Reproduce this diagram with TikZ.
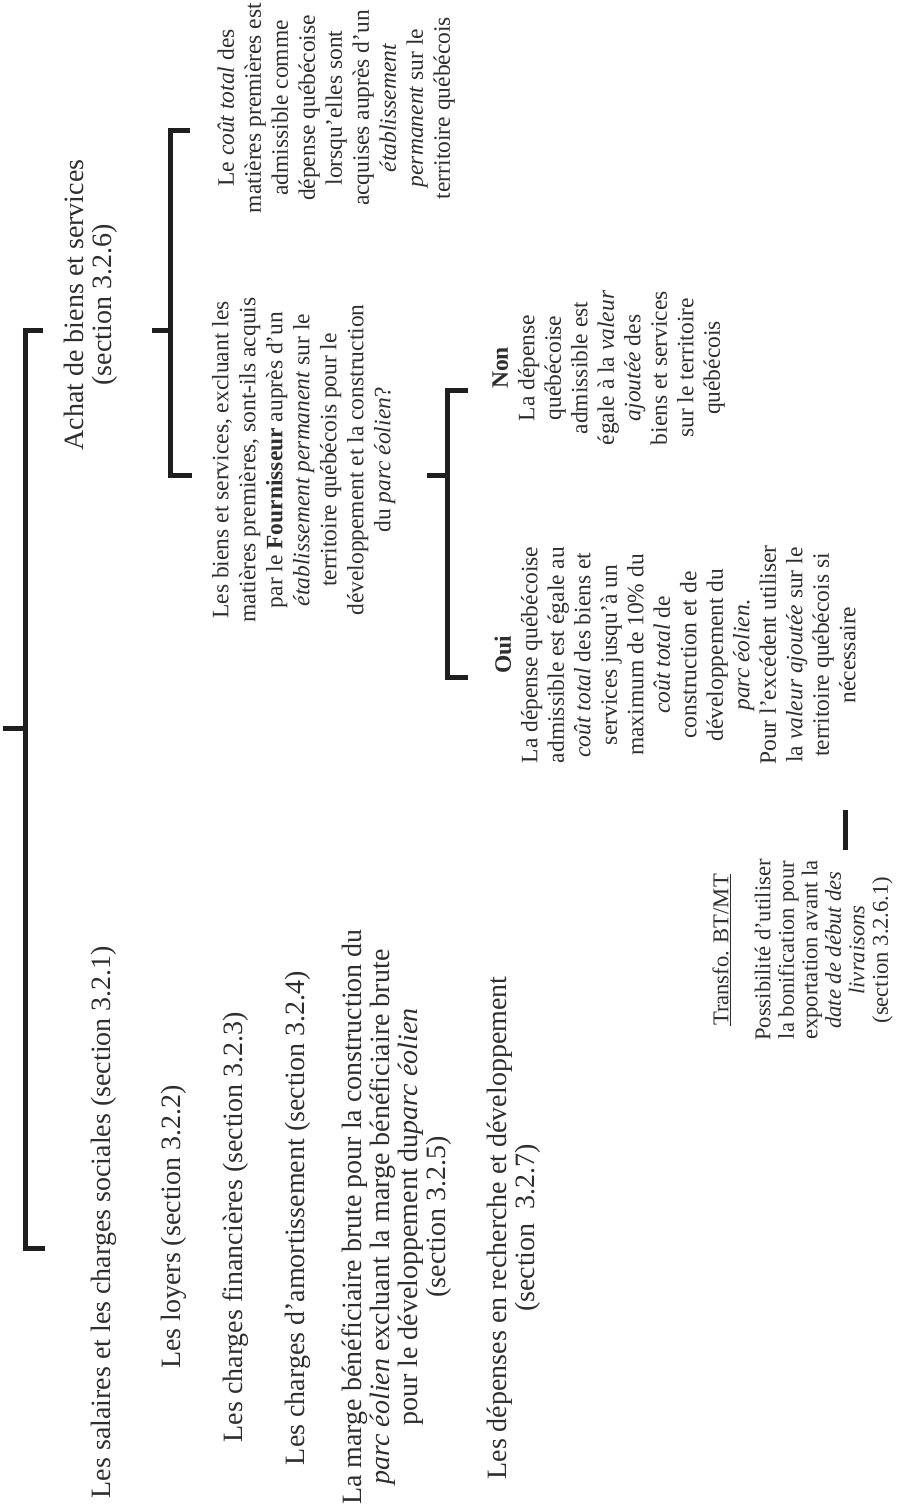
\documentclass[tikz,border=0pt]{standalone}
\usepackage{fontspec}
\setmainfont{Liberation Serif}
\begin{document}
\begin{tikzpicture}[x=1pt,y=1pt,
  lbl/.style={rotate=90, align=center, inner sep=0pt, text=black!82},
  bigtxt/.style={lbl, font=\fontsize{28}{28}\selectfont},
  smalltxt/.style={lbl, font=\fontsize{23.5}{27}\selectfont},
  ouinon/.style={lbl, font=\fontsize{23.5}{26.5}\selectfont},
  tinytxt/.style={lbl, font=\fontsize{22.6}{23.5}\selectfont},
  brk/.style={line width=5pt, draw=black!88, line join=miter}]
\fill[white] (0,0) rectangle (897,-1512);
\useasboundingbox (0,0) rectangle (897,-1512);

% ---- text nodes ----
\node[bigtxt] (achat) at (90.7,-305) {Achat de biens et services\\(section 3.2.6)};
\node[bigtxt] (sal) at (103.6,-1222) {Les salaires et les charges sociales (section 3.2.1)};
\node[bigtxt] (loy) at (173.6,-1227) {Les loyers (section 3.2.2)};
\node[bigtxt] (fin) at (235.6,-1227) {Les charges financières (section 3.2.3)};
\node[bigtxt] (amo) at (297.6,-1218) {Les charges d'amortissement (section 3.2.4)};
\node[bigtxt] (marge) at (397,-1217) {La marge bénéficiaire brute pour la construction du\\ \textit{parc éolien} excluant la marge bénéficiaire brute\\ pour le développement du\textit{parc éolien}\\ (section 3.2.5)};
\node[bigtxt] (rd) at (514,-1228) {Les dépenses en recherche et développement\\ (section~ 3.2.7)};

\node[smalltxt] (cout) at (336.2,-108) {Le \textit{coût total} des\\ matières premières est\\ admissible comme\\ dépense québécoise\\ lorsqu'elles sont\\ acquises auprès d'un\\ \textit{établissement}\\ \textit{permanent} sur le\\ territoire québécois};
\node[smalltxt] (quest) at (303.7,-460) {Les biens et services, excluant les\\ matières premières, sont-ils acquis\\ par le \textbf{Fournisseur} auprès d'un\\ \textit{établissement permanent} sur le\\ territoire québécois pour le\\ développement et la construction\\ du \textit{parc éolien}?};
\node[ouinon] (non) at (608.7,-368) {\textbf{Non}\\ La dépense\\ québécoise\\ admissible est\\ égale à la \textit{valeur}\\ \textit{ajoutée} des\\ biens et services\\ sur le territoire\\ québécois};
\node[ouinon] (oui) at (675,-655) {\textbf{Oui}\\ La dépense québécoise\\ admissible est égale au\\ \textit{coût total} des biens et\\ services jusqu'à un\\ maximum de 10\% du\\ \textit{coût total} de\\ construction et de\\ développement du\\ \textit{parc éolien}.\\ Pour l'excédent utiliser\\ la \textit{valeur ajoutée} sur le\\ territoire québécois si\\ nécessaire};
\node[tinytxt] (transfo) at (802.5,-950) {\underline{Transfo. BT/MT}\\[18.5pt] Possibilité d'utiliser\\ la bonification pour\\ exportation avant la\\ \textit{date de début des}\\ \textit{livraisons}\\ (section 3.2.6.1)};

% ---- bracket coordinates ----
\coordinate (m1) at (43,-330);
\coordinate (m2) at (25,-330);
\coordinate (m3) at (25,-1248);
\coordinate (m4) at (45,-1248);
\coordinate (m5) at (3,-728);
\coordinate (m6) at (25,-728);

\coordinate (a1) at (190,-130);
\coordinate (a2) at (170,-130);
\coordinate (a3) at (170,-475);
\coordinate (a4) at (192,-475);
\coordinate (a5) at (152,-330);
\coordinate (a6) at (170,-330);

\coordinate (q1) at (468,-390);
\coordinate (q2) at (447,-390);
\coordinate (q3) at (447,-677);
\coordinate (q4) at (468,-677);
\coordinate (q5) at (427,-475);
\coordinate (q6) at (447,-475);

\coordinate (t1) at (845,-810);
\coordinate (t2) at (845,-850);

% ---- brackets ----
\draw[brk] (m1) -- (m2) -- (m3) -- (m4);
\draw[brk] (m5) -- (m6);
\draw[brk] (a1) -- (a2) -- (a3) -- (a4);
\draw[brk] (a5) -- (a6);
\draw[brk] (q1) -- (q2) -- (q3) -- (q4);
\draw[brk] (q5) -- (q6);
\draw[brk] (t1) -- (t2);
\end{tikzpicture}
\end{document}
